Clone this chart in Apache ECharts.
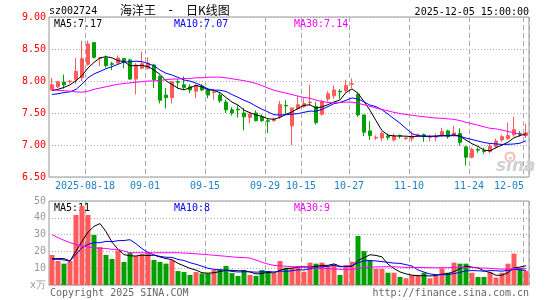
<!DOCTYPE html>
<html><head><meta charset="utf-8">
<script src="https://cdn.jsdelivr.net/npm/echarts@6/dist/echarts.min.js"></script>
<style>html,body{margin:0;padding:0;background:#fff}#c{width:545px;height:300px}</style>
</head><body><div id="c"></div>
<script>
const dates = ['2025-08-08','2025-08-11','2025-08-12','2025-08-13','2025-08-14','2025-08-15',
'2025-08-18','2025-08-19','2025-08-20','2025-08-21','2025-08-22','2025-08-25','2025-08-26','2025-08-27','2025-08-28','2025-08-29',
'2025-09-01','2025-09-02','2025-09-03','2025-09-04','2025-09-05','2025-09-08','2025-09-09','2025-09-10','2025-09-11','2025-09-12',
'2025-09-15','2025-09-16','2025-09-17','2025-09-18','2025-09-19','2025-09-22','2025-09-23','2025-09-24','2025-09-25','2025-09-26',
'2025-09-29','2025-09-30','2025-10-09','2025-10-10','2025-10-13','2025-10-14','2025-10-15','2025-10-16','2025-10-17',
'2025-10-20','2025-10-21','2025-10-22','2025-10-23','2025-10-24','2025-10-27','2025-10-28','2025-10-29','2025-10-30','2025-10-31',
'2025-11-03','2025-11-04','2025-11-05','2025-11-06','2025-11-07','2025-11-10','2025-11-11','2025-11-12','2025-11-13','2025-11-14',
'2025-11-17','2025-11-18','2025-11-19','2025-11-20','2025-11-21','2025-11-24','2025-11-25','2025-11-26','2025-11-27','2025-11-28',
'2025-12-01','2025-12-02','2025-12-03','2025-12-04','2025-12-05'];
const opens = [7.86,7.91,7.98,7.99,8.02,8.05,8.26,8.60,8.35,8.36,
8.27,8.28,8.35,8.33,8.03,8.20,8.20,8.25,8.07,7.78,
7.74,7.99,7.94,7.91,7.84,7.92,7.86,7.82,7.78,7.67,
7.55,7.56,7.50,7.43,7.50,7.44,7.38,7.38,7.44,7.62,
7.30,7.57,7.60,7.66,7.60,7.48,7.72,7.77,7.84,7.85,
7.95,7.79,7.47,7.22,7.11,7.11,7.14,7.08,7.15,7.10,
7.10,7.15,7.16,7.12,7.12,7.15,7.22,7.15,7.18,6.97,
6.81,6.93,6.91,6.90,6.98,7.08,7.10,7.16,7.18,7.15];
const closes = [7.94,7.99,7.94,8.00,8.15,8.35,8.58,8.37,8.36,8.24,
8.26,8.36,8.30,8.03,8.25,8.27,8.28,8.02,7.70,7.74,
7.99,7.98,7.90,7.86,7.93,7.86,7.78,7.83,7.69,7.55,
7.50,7.55,7.44,7.48,7.38,7.38,7.37,7.40,7.63,7.61,
7.58,7.63,7.65,7.67,7.35,7.68,7.80,7.86,7.83,7.93,
7.96,7.47,7.20,7.15,7.12,7.18,7.12,7.14,7.14,7.11,
7.14,7.16,7.13,7.13,7.13,7.21,7.13,7.19,7.04,6.81,
6.93,6.92,6.90,6.98,7.06,7.13,7.15,7.24,7.16,7.19];
const lows = [7.85,7.89,7.88,7.96,7.95,8.00,8.24,8.35,8.23,8.21,
8.17,8.26,8.20,8.02,7.79,8.18,8.18,7.89,7.65,7.57,
7.65,7.89,7.86,7.81,7.73,7.84,7.73,7.71,7.66,7.50,
7.46,7.43,7.23,7.34,7.37,7.36,7.19,7.36,7.41,7.47,
7.00,7.55,7.58,7.61,7.32,7.46,7.68,7.72,7.72,7.82,
7.89,7.44,7.14,7.08,7.08,7.06,7.08,7.05,7.10,7.08,
7.06,7.13,7.05,7.06,7.06,7.13,7.10,7.13,6.99,6.68,
6.79,6.88,6.86,6.87,6.95,7.05,7.08,7.13,7.13,7.11];
const highs = [8.05,8.00,8.10,8.02,8.36,8.63,8.63,8.61,8.37,8.40,
8.30,8.40,8.36,8.35,8.28,8.46,8.37,8.27,8.09,7.89,
8.00,8.03,8.07,7.95,7.95,7.95,7.87,7.87,7.81,7.71,
7.59,7.62,7.58,7.52,7.54,7.48,7.42,7.43,7.69,7.70,
7.58,7.76,7.73,7.94,7.67,7.71,7.84,7.93,7.87,8.02,
8.04,7.81,7.47,7.37,7.15,7.21,7.18,7.18,7.16,7.13,
7.21,7.18,7.18,7.16,7.18,7.27,7.24,7.30,7.26,6.99,
6.96,6.96,6.96,7.02,7.10,7.16,7.35,7.44,7.22,7.33];
const volumes = [17.9,14.3,12.7,14.3,41.7,47.0,41.7,29.8,22.6,17.9,
15.5,20.6,13.7,19.2,17.3,18.3,19.2,14.9,13.7,12.7,
14.7,8.3,7.7,6.0,7.7,6.9,6.9,8.9,9.5,11.3,
7.1,5.4,8.9,6.0,5.4,8.9,8.3,6.9,14.3,10.3,
10.3,11.3,7.9,13.3,12.7,13.3,11.3,12.3,6.0,11.9,
13.9,29.2,20.2,14.9,9.7,9.7,7.3,7.3,4.8,4.0,
5.8,5.8,7.3,4.0,5.4,9.9,7.3,13.3,12.7,12.7,
7.3,4.8,4.8,7.7,4.4,7.3,12.7,18.7,10.3,8.3];
// moving-average values for the first days (they need trading days before the window)
const priceMA5Start = [7.85,7.87,7.90,7.94];
const priceMA10Start = [7.79,7.80,7.82,7.83,7.87,7.95,8.05,8.11,8.15];
const priceMA30Start = [7.86,7.855,7.85,7.84,7.83,7.825,7.84,7.87,7.89,7.91,7.93,7.95,7.96,7.97,7.98,7.99,8.00,8.00,8.01,8.02,8.03,8.03,8.04,8.04,8.05,8.05,8.06,8.06,8.06];
const volMA5Start = [15.7,15.7,15.7,14.3];
const volMA10Start = [15.3,15.3,14.9,14.3,18.3,22.2,24.2,25.2,25.2];
const volMA30Start = [30.0,28.2,26.6,25.2,24.2,23.2,22.6,22.2,21.8,21.8,21.2,21.2,20.2,19.2,19.2,19.2,19.2,19.2,19.2,19.2,19.2,19.2,19.0,18.8,18.6,18.3,18.0,17.7,17.4];
const labelIdx = [6,16,26,36,42,50,60,70,79];
const priceTicks = {min:6.5, max:9.0, step:0.5};
const volTicks = {min:0, max:50, step:10};

function movAvg(vals, n, start){
  return vals.map((v,i)=>{
    if(i < n-1) return start[i];
    let s=0; for(let k=i-n+1;k<=i;k++) s+=vals[k];
    return +(s/n).toFixed(4);
  });
}
const pMA5 = movAvg(closes,5,priceMA5Start), pMA10 = movAvg(closes,10,priceMA10Start), pMA30 = movAvg(closes,30,priceMA30Start);
const vMA5 = movAvg(volumes,5,volMA5Start), vMA10 = movAvg(volumes,10,volMA10Start), vMA30 = movAvg(volumes,30,volMA30Start);
const last = a => a[a.length-1];

const UP='#ff5b5b', DOWN='#00a000';
const MONO='"DejaVu Sans Mono", "Liberation Mono", monospace';
const kData = opens.map((o,i)=>[o, closes[i], lows[i], highs[i]]);
const vData = volumes.map((v,i)=>({value:v, itemStyle:{color: closes[i]>=opens[i]?UP:DOWN}}));

const splitX = {show:true, interval:(i)=>labelIdx.includes(i), lineStyle:{color:'#aaa', width:1, type:[5,3]}};
const dotY = {show:true, lineStyle:{color:'#aaa', width:1, type:[1,2]}};

function txt(text,x,y,fill,opt){
  opt=opt||{};
  return {type:'text', x:x, y:y, z:opt.z||1, silent:true,
    style:{text:text, fill:fill, font:opt.font||('10px '+MONO), align:opt.align||'left', verticalAlign:'middle'}};
}

const chart = echarts.init(document.getElementById('c'), null, {renderer:'canvas'});
chart.setOption({
  animation:false,
  backgroundColor:'#fff',
  grid:[
    {left:49, top:17, width:480, height:160, show:true, borderColor:'#999', borderWidth:1, backgroundColor:'transparent'},
    {left:49, top:201, width:480, height:84, show:true, borderColor:'#999', borderWidth:1, backgroundColor:'transparent'}
  ],
  xAxis:[
    {type:'category', gridIndex:0, data:dates, boundaryGap:true,
     axisLine:{show:false}, axisTick:{show:false}, splitLine:splitX,
     axisLabel:{interval:(i)=>labelIdx.includes(i), margin:4, color:'#1f80cc', fontSize:10, fontFamily:MONO,
       formatter:(v,i)=>{ const t = (i===labelIdx[0])? v : v.slice(5); return (i===dates.length-1)? '{b|'+t+'}' : '{a|'+t+'}'; },
       rich:{a:{padding:[0,6,0,0], color:'#1f80cc', fontSize:10, fontFamily:MONO}, b:{padding:[0,34,0,0], color:'#1f80cc', fontSize:10, fontFamily:MONO}}}},
    {type:'category', gridIndex:1, data:dates, boundaryGap:true,
     axisLine:{show:false}, axisTick:{show:false}, axisLabel:{show:false}, splitLine:splitX}
  ],
  yAxis:[
    {type:'value', gridIndex:0, min:priceTicks.min, max:priceTicks.max, interval:priceTicks.step, scale:true,
     axisLine:{show:false}, axisTick:{show:false}, splitLine:dotY,
     axisLabel:{color:'#ff0000', fontSize:10, fontFamily:MONO, margin:3, formatter:(v)=>v.toFixed(2)}},
    {type:'value', gridIndex:1, min:volTicks.min, max:volTicks.max, interval:volTicks.step,
     axisLine:{show:false}, axisTick:{show:false}, splitLine:dotY,
     axisLabel:{color:'#999', fontSize:10, fontFamily:MONO, margin:3, formatter:(v)=> v===0?'x万':String(v)}}
  ],
  series:[
    {type:'candlestick', xAxisIndex:0, yAxisIndex:0, data:kData, barWidth:4, silent:true,
     itemStyle:{color:UP, color0:DOWN, borderColor:UP, borderColor0:DOWN, borderWidth:1}},
    {type:'line', xAxisIndex:0, yAxisIndex:0, data:pMA5, symbol:'none', silent:true, lineStyle:{color:'#000', width:1}},
    {type:'line', xAxisIndex:0, yAxisIndex:0, data:pMA10, symbol:'none', silent:true, lineStyle:{color:'#0000ff', width:1}},
    {type:'line', xAxisIndex:0, yAxisIndex:0, data:pMA30, symbol:'none', silent:true, lineStyle:{color:'#ff00ff', width:1}},
    {type:'bar', xAxisIndex:1, yAxisIndex:1, data:vData, barWidth:5, silent:true},
    {type:'line', xAxisIndex:1, yAxisIndex:1, data:vMA5, symbol:'none', silent:true, lineStyle:{color:'#000', width:1}},
    {type:'line', xAxisIndex:1, yAxisIndex:1, data:vMA10, symbol:'none', silent:true, lineStyle:{color:'#0000ff', width:1}},
    {type:'line', xAxisIndex:1, yAxisIndex:1, data:vMA30, symbol:'none', silent:true, lineStyle:{color:'#ff00ff', width:1}}
  ],
  graphic:[
    txt('sz002724', 49, 11.5, '#000'),
    txt('海洋王', 120, 10, '#000', {font:'12px "Noto Sans CJK SC"'}),
    txt('-', 167, 10.5, '#000', {font:'12px '+MONO}),
    txt('日K线图', 186, 10, '#000', {font:'12px "Noto Sans CJK SC"'}),
    txt('2025-12-05 15:00:00', 529, 12, '#000', {align:'right'}),
    txt('MA5:'+last(pMA5).toFixed(2), 54, 24.5, '#000'),
    txt('MA10:'+last(pMA10).toFixed(2), 174, 24.5, '#0000ff'),
    txt('MA30:'+last(pMA30).toFixed(2), 294, 24.5, '#ff00ff'),
    txt('MA5:'+Math.floor(last(vMA5)), 54, 208, '#000'),
    txt('MA10:'+Math.floor(last(vMA10)), 174, 208, '#0000ff'),
    txt('MA30:'+Math.floor(last(vMA30)), 294, 208, '#ff00ff'),
    txt('Copyright 2025 SINA.COM', 50, 293, '#666'),
    txt('http://finance.sina.com.cn', 529, 293, '#666', {align:'right'}),
    {type:'circle', shape:{cx:510, cy:157, r:4.5}, z:0, silent:true, style:{fill:'none', stroke:'#f6bcbc', lineWidth:2}},
    txt('sina', 496, 167, '#d2d2d2', {font:'italic bold 17px "DejaVu Sans"', z:0})
  ]
});
</script></body></html>
